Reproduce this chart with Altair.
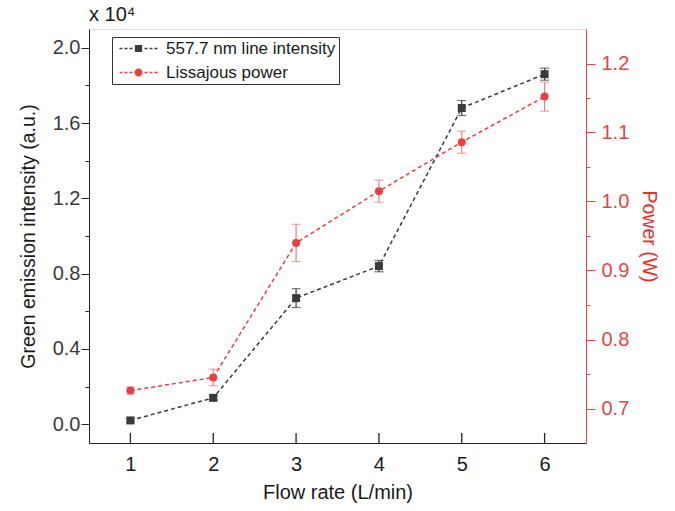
import altair as alt
import pandas as pd

# ---- data ----
flow = [1, 2, 3, 4, 5, 6]
intensity = [0.02, 0.14, 0.67, 0.84, 1.68, 1.86]          # x 10^4 a.u.
intensity_err = [0.01, 0.012, 0.05, 0.03, 0.04, 0.032]
power = [0.726, 0.745, 0.940, 1.015, 1.086, 1.152]        # W
power_err = [0.005, 0.012, 0.027, 0.016, 0.016, 0.021]
series = ["557.7 nm line intensity", "Lissajous power"]
x_ticks = [1, 2, 3, 4, 5, 6]
left_ticks = [0.0, 0.2, 0.4, 0.6, 0.8, 1.0, 1.2, 1.4, 1.6, 1.8, 2.0]
right_ticks = [0.70, 0.75, 0.80, 0.85, 0.90, 0.95, 1.00, 1.05, 1.10, 1.15, 1.20]
left_domain = [-0.1, 2.1]
right_domain = [0.65, 1.25]

BLACK = "#3a3a3a"
RED = "#e8403f"
RED_ERR = "#ea8080"
AXIS_RED = "#e04848"
FONT = "Liberation Sans"
PLOT_W, PLOT_H = 497, 414
X_TICK_LEN = 10

df = pd.DataFrame({
    "flow": flow,
    "intensity": intensity,
    "i_err": intensity_err,
    "power": power,
    "p_err": power_err,
})
df["i_lo"] = df["intensity"] - df["i_err"]
df["i_hi"] = df["intensity"] + df["i_err"]
df["p_lo"] = df["power"] - df["p_err"]
df["p_hi"] = df["power"] + df["p_err"]
legend_df = pd.DataFrame({"series": series})
# inward bottom-axis ticks, expressed in left-axis units (tick length = X_TICK_LEN px)
tick_len_units = X_TICK_LEN * (left_domain[1] - left_domain[0]) / PLOT_H
xtick_df = pd.DataFrame({"tick": x_ticks})
xtick_df["y0"] = left_domain[0]
xtick_df["y1"] = left_domain[0] + tick_len_units


def legend_path(kind):
    t = 0.16
    parts = []
    for a, b in [(-4.75, -4.0), (-3.5, -2.75), (-2.25, -1.5), (1.5, 2.25), (2.75, 3.5), (4.0, 4.75)]:
        parts.append(f"M{a},{-t}L{b},{-t}L{b},{t}L{a},{t}Z")
    if kind == "square":
        s = 0.9
        parts.append(f"M{-s},{-s}L{s},{-s}L{s},{s}L{-s},{s}Z")
    else:
        r = 1.0
        parts.append(f"M{-r},0A{r},{r} 0 1,0 {r},0A{r},{r} 0 1,0 {-r},0Z")
    return "".join(parts)


x_scale = alt.Scale(domain=[0.5, 6.5], nice=False, zero=False)
x_axis = alt.Axis(
    values=x_ticks, title="Flow rate (L/min)", format="d", orient="bottom",
    ticks=False, labelPadding=11, titlePadding=8,
    domainColor="#222", labelColor="#1a1a1a",
    labelFontSize=20, titleFontSize=20, titleFontWeight="normal",
    labelFont=FONT, titleFont=FONT, titleColor="#1a1a1a", grid=False,
)

minor_left = "abs(datum.value/0.4 - round(datum.value/0.4)) > 0.01"
left_scale = alt.Scale(domain=left_domain, nice=False, zero=False)
left_axis = alt.Axis(
    values=left_ticks, title="Green emission intensity (a.u.)",
    labelExpr="abs(datum.value/0.4 - round(datum.value/0.4)) < 0.01 ? format(datum.value, '.1f') : ''",
    tickSize=8, tickDash={"condition": {"test": minor_left, "value": [4, 40]}, "value": [100, 0]},
    labelPadding=1, titlePadding=14, domainColor="#222", tickColor="#222",
    labelColor="#3a3a3a", titleColor="#1a1a1a", labelFontSize=20, titleFontSize=19.5,
    titleFontWeight="normal", labelFont=FONT, titleFont=FONT, grid=False, orient="left",
)

minor_right = "abs(datum.value*10 - round(datum.value*10)) > 0.01"
right_scale = alt.Scale(domain=right_domain, nice=False, zero=False)
right_axis = alt.Axis(
    values=right_ticks, title="Power (W)",
    labelExpr="abs(datum.value*10 - round(datum.value*10)) < 0.01 ? format(datum.value, '.1f') : ''",
    tickSize=9, tickDash={"condition": {"test": minor_right, "value": [4, 40]}, "value": [100, 0]},
    labelPadding=6, titlePadding=10, domainColor=AXIS_RED, tickColor=AXIS_RED,
    labelColor=AXIS_RED, titleColor="#e53030", labelFontSize=20, titleFontSize=19.5,
    titleFontWeight="normal", labelFont=FONT, titleFont=FONT, grid=False, orient="right",
)

X = alt.X("flow:Q", scale=x_scale, axis=x_axis)

base = alt.Chart(df)

x_inward_ticks = alt.Chart(xtick_df).mark_rule(color="#222", strokeWidth=1.3).encode(
    x=alt.X("tick:Q", scale=x_scale, axis=x_axis),
    y=alt.Y("y0:Q", scale=left_scale, axis=left_axis),
    y2="y1:Q")

black_line = base.mark_line(color=BLACK, strokeDash=[4, 3], strokeWidth=1.5).encode(
    x=X, y=alt.Y("intensity:Q", scale=left_scale, axis=left_axis))
black_err = base.mark_errorbar(ticks={"size": 9, "thickness": 1.2}, color=BLACK, thickness=1.2).encode(
    x=X, y=alt.Y("i_lo:Q", scale=left_scale, axis=left_axis), y2="i_hi:Q")
black_pts = base.mark_point(shape="square", filled=True, size=64, color=BLACK, opacity=1).encode(
    x=X, y=alt.Y("intensity:Q", scale=left_scale, axis=left_axis))

legend_layer = alt.Chart(legend_df).transform_filter("datum.series == 'none'").mark_point(
    filled=True, opacity=1).encode(
    color=alt.Color("series:N", scale=alt.Scale(domain=series, range=[BLACK, RED]),
                    legend=alt.Legend(
                        title=None, orient="none", legendX=23, legendY=8,
                        strokeColor="#333", fillColor="white", padding=3,
                        symbolSize=64, symbolOffset=15, labelOffset=19,
                        symbolOpacity=1, symbolStrokeWidth=0,
                        labelFontSize=17, labelFont=FONT, labelColor="#1a1a1a",
                        rowPadding=6, labelLimit=400)),
    shape=alt.Shape("series:N", scale=alt.Scale(domain=series,
                                                 range=[legend_path("square"), legend_path("circle")])),
)

red_line = base.mark_line(color=RED, strokeDash=[4, 3], strokeWidth=1.5).encode(
    x=X, y=alt.Y("power:Q", scale=right_scale, axis=right_axis))
red_err = base.mark_errorbar(ticks={"size": 9, "thickness": 1.2}, color=RED_ERR, thickness=1.2).encode(
    x=X, y=alt.Y("p_lo:Q", scale=right_scale, axis=right_axis), y2="p_hi:Q")
red_pts = base.mark_point(shape="circle", filled=True, size=64, color=RED, opacity=1).encode(
    x=X, y=alt.Y("power:Q", scale=right_scale, axis=right_axis))

black_group = alt.layer(x_inward_ticks, black_line, black_err, black_pts, legend_layer)
red_group = alt.layer(red_line, red_err, red_pts)

chart = alt.layer(black_group, red_group).resolve_scale(y="independent").properties(
    width=PLOT_W, height=PLOT_H,
    autosize=alt.AutoSizeParams(type="none"),
    padding={"left": 89, "top": 29, "right": 89, "bottom": 68},
    title=alt.TitleParams(text="x 10⁴", anchor="start", frame="group", fontSize=20,
                          font=FONT, fontWeight="normal", color="#1a1a1a", offset=4),
).configure_view(stroke="#222", strokeWidth=1.2).configure(background="white")

chart.save("out.html", embed_options={"renderer": "svg", "actions": False})
